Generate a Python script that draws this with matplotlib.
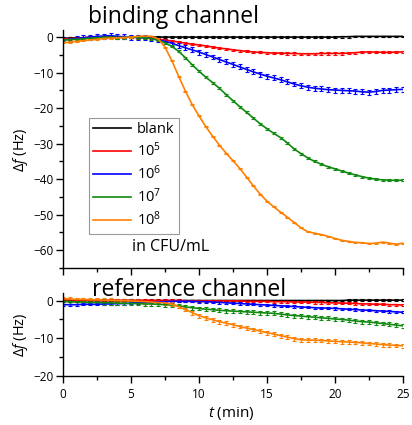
import numpy as np
import matplotlib
matplotlib.use("Agg")
import matplotlib.pyplot as plt
from matplotlib.ticker import MultipleLocator

plt.rcParams['font.family'] = ['Open Sans', 'DejaVu Sans']
plt.rcParams['mathtext.fontset'] = 'custom'
plt.rcParams['mathtext.rm'] = 'Open Sans'
plt.rcParams['mathtext.it'] = 'Open Sans:italic'

t = np.arange(0, 25.01, 0.5)

labels = ['blank', '10$^5$', '10$^6$', '10$^7$', '10$^8$']
colors = ['#000000', '#ff0000', '#0000ff', '#108a10', '#ff8000']

# binding channel (Hz)
bind_blank = [-0.3,-0.3,-0.2,-0.2,-0.1,-0.1,0.0,0.0,0.0,0.0,
              0.0,0.0,0.0,0.0,0.0,0.0,0.0,0.0,0.0,0.0,
              0.0,0.0,0.0,0.0,0.0,0.0,0.0,0.0,0.0,0.0,
              0.0,0.0,0.0,0.0,0.0,0.0,0.0,0.0,0.0,0.0,
              0.0,0.1,0.1,0.2,0.2,0.2,0.2,0.2,0.2,0.2,
              0.2]
bind_1e5 = [-0.5,-0.4,-0.3,-0.2,-0.1,0.0,0.0,0.1,0.0,0.0,
            0.0,-0.1,-0.1,-0.3,-0.6,-0.8,-1.1,-1.4,-1.7,-2.0,
            -2.2,-2.5,-2.8,-3.1,-3.3,-3.6,-3.8,-4.0,-4.2,-4.3,
            -4.4,-4.5,-4.5,-4.6,-4.6,-4.7,-4.7,-4.7,-4.6,-4.6,
            -4.6,-4.6,-4.5,-4.4,-4.2,-4.2,-4.2,-4.3,-4.3,-4.2,
            -4.2]
bind_1e6 = [-0.8,-0.6,-0.4,-0.2,0.0,0.2,0.3,0.4,0.2,0.1,
            0.0,-0.1,-0.2,-0.4,-0.8,-1.2,-1.7,-2.4,-3.0,-3.6,
            -4.2,-4.9,-5.6,-6.3,-7.0,-7.7,-8.4,-9.1,-9.8,-10.4,
            -11.0,-11.5,-12.0,-12.6,-13.2,-13.7,-14.1,-14.4,-14.6,-14.8,
            -14.9,-15.0,-15.1,-15.2,-15.4,-15.5,-15.3,-15.0,-14.9,-14.8,
            -14.7]
bind_1e7 = [-0.8,-0.7,-0.6,-0.5,-0.3,-0.2,0.0,0.0,-0.1,-0.1,
            0.0,-0.1,-0.2,-0.4,-0.9,-1.6,-2.6,-4.0,-5.8,-7.8,
            -9.6,-11.3,-12.8,-14.4,-16.2,-17.9,-19.6,-21.2,-22.8,-24.4,
            -25.8,-27.1,-28.3,-29.8,-31.5,-32.8,-34.0,-35.0,-35.8,-36.5,
            -37.1,-37.7,-38.3,-38.8,-39.3,-39.7,-40.0,-40.2,-40.3,-40.3,
            -40.3]
bind_1e8 = [-1.6,-1.4,-1.2,-1.0,-0.8,-0.6,-0.4,-0.3,-0.2,-0.1,
            0.0,0.2,0.3,0.2,-0.5,-2.8,-6.6,-11.0,-15.2,-19.0,
            -22.2,-25.2,-27.9,-30.4,-32.7,-34.8,-37.0,-39.4,-41.9,-44.2,
            -46.2,-47.8,-49.3,-50.7,-52.2,-53.7,-54.8,-55.2,-55.6,-56.1,
            -56.7,-57.2,-57.5,-57.8,-57.9,-58.1,-58.0,-57.7,-58.0,-58.3,
            -58.0]
bind_err = [0.25, 0.3, 0.7, 0.3, 0.15]

# reference channel (Hz)
ref_blank = [-0.2,-0.1,-0.1,0.0,0.0,0.0,0.0,0.0,0.0,0.0,
             0.0,0.0,0.0,0.0,0.0,0.0,0.0,0.0,0.0,0.0,
             0.0,0.0,0.0,0.0,0.0,0.0,0.0,0.0,0.0,0.0,
             0.0,0.0,0.0,0.0,0.0,0.0,0.0,0.0,0.0,0.0,
             0.0,0.0,0.1,0.1,0.1,0.1,0.1,0.1,0.1,0.1,
             0.1]
ref_1e5 = [0.2,0.2,0.1,0.1,0.1,0.0,0.0,0.0,0.0,0.0,
           0.0,0.0,0.0,0.0,0.0,0.0,0.0,0.0,-0.1,-0.1,
           -0.1,-0.1,-0.1,-0.1,-0.1,-0.1,-0.1,-0.2,-0.2,-0.2,
           -0.2,-0.3,-0.3,-0.3,-0.4,-0.4,-0.4,-0.5,-0.5,-0.6,
           -0.6,-0.7,-0.7,-0.8,-0.9,-0.9,-1.0,-1.0,-1.1,-1.1,
           -1.2]
ref_1e6 = [-1.1,-1.1,-1.1,-1.0,-1.0,-1.0,-0.9,-0.9,-0.8,-0.8,
           -0.7,-0.6,-0.5,-0.4,-0.3,-0.3,-0.2,-0.2,-0.2,-0.2,
           -0.3,-0.3,-0.4,-0.5,-0.6,-0.7,-0.8,-0.9,-1.0,-1.1,
           -1.2,-1.3,-1.4,-1.5,-1.6,-1.7,-1.8,-1.9,-2.0,-2.0,
           -2.1,-2.2,-2.3,-2.4,-2.5,-2.6,-2.7,-2.8,-2.9,-3.0,
           -3.1]
ref_1e7 = [-0.3,-0.3,-0.4,-0.4,-0.5,-0.5,-0.6,-0.6,-0.7,-0.7,
           -0.8,-0.8,-0.9,-0.9,-1.0,-1.1,-1.2,-1.4,-1.7,-1.9,
           -2.1,-2.3,-2.4,-2.6,-2.7,-2.8,-2.9,-3.0,-3.1,-3.2,
           -3.3,-3.4,-3.6,-3.8,-4.0,-4.1,-4.3,-4.4,-4.6,-4.7,
           -4.9,-5.0,-5.2,-5.4,-5.6,-5.7,-5.9,-6.1,-6.3,-6.5,
           -6.7]
ref_1e8 = [0.5,0.4,0.3,0.3,0.2,0.2,0.1,0.1,0.0,0.0,
           -0.1,-0.2,-0.3,-0.4,-0.5,-0.6,-1.0,-1.6,-2.4,-3.2,
           -4.0,-4.6,-5.1,-5.6,-6.0,-6.4,-6.9,-7.3,-7.7,-8.1,
           -8.5,-8.9,-9.3,-9.7,-10.1,-10.4,-10.5,-10.5,-10.6,-10.7,
           -10.8,-10.9,-11.0,-11.1,-11.2,-11.4,-11.5,-11.7,-11.8,-11.9,
           -12.0]
ref_err = [0.2, 0.3, 0.3, 0.5, 0.5]

bind = [bind_blank, bind_1e5, bind_1e6, bind_1e7, bind_1e8]
ref = [ref_blank, ref_1e5, ref_1e6, ref_1e7, ref_1e8]

W, H = 412, 425
fig = plt.figure(figsize=(W/100, H/100), dpi=100)

def ax_px(l, top, r, bot):
    return fig.add_axes([l/W, 1-bot/H, (r-l)/W, (bot-top)/H])

ax1 = ax_px(63, 30, 403, 268)
ax2 = ax_px(63, 293, 403, 376)

def style(ax, ymin, ymax):
    ax.set_xlim(0, 25)
    ax.set_ylim(ymin, ymax)
    for s in ['top', 'right']:
        ax.spines[s].set_visible(False)
    for s in ['left', 'bottom']:
        ax.spines[s].set_linewidth(1.0)
    ax.xaxis.set_major_locator(MultipleLocator(5))
    ax.xaxis.set_minor_locator(MultipleLocator(2.5))
    ax.yaxis.set_major_locator(MultipleLocator(10))
    ax.yaxis.set_minor_locator(MultipleLocator(5))
    ax.tick_params(which='major', direction='out', length=5, width=1.0, labelsize=8.5)
    ax.tick_params(which='minor', direction='out', length=3, width=1.0)
    ax.tick_params(axis='y', pad=2)

handles = []
for y, c, e, lab in zip(bind, colors, bind_err, labels):
    ax1.errorbar(t, y, yerr=e, color=c, lw=1.2, elinewidth=0.9, capsize=1.2, capthick=0.8)
    h, = ax1.plot([], [], color=c, lw=1.2, label=lab)
    handles.append(h)
for y, c, e in zip(ref, colors, ref_err):
    ax2.errorbar(t, y, yerr=e, color=c, lw=1.2, elinewidth=0.9, capsize=1.2, capthick=0.8)

style(ax1, -65, 2)
style(ax2, -20, 2)
ax1.set_xticks([0, 5, 10, 15, 20, 25])
ax1.tick_params(axis='x', labelbottom=False)
ax1.set_yticks([0, -10, -20, -30, -40, -50, -60])
ax2.set_yticks([0, -10, -20])
ax2.set_xticks([0, 5, 10, 15, 20, 25])

leg = ax1.legend(handles=handles, loc='upper left',
                 bbox_to_anchor=((89-63)/340, (268-118)/238),
                 fontsize=10.5, frameon=True, fancybox=False,
                 edgecolor='#999999', framealpha=1, handlelength=2.6,
                 handletextpad=0.4, labelspacing=0.3, borderpad=0.3,
                 borderaxespad=0)
leg.get_frame().set_linewidth(0.8)

fig.text(132/W, 1-247/H, 'in CFU/mL', fontsize=11.5, va='center', ha='left')
fig.text(88/W, 1-17/H, 'binding channel', fontsize=16.5, va='center', ha='left')
fig.text(92/W, 1-290/H, 'reference channel', fontsize=16.5, va='center', ha='left')

fig.text(20/W, 1-150/H, r'$\Delta f$ (Hz)', fontsize=10.5, rotation=90, va='center', ha='center')
fig.text(20/W, 1-335/H, r'$\Delta f$ (Hz)', fontsize=10.5, rotation=90, va='center', ha='center')
fig.text(231/W, 1-414/H, r'$t$ (min)', fontsize=11, va='center', ha='center')

fig.savefig('out.png', dpi=100)
